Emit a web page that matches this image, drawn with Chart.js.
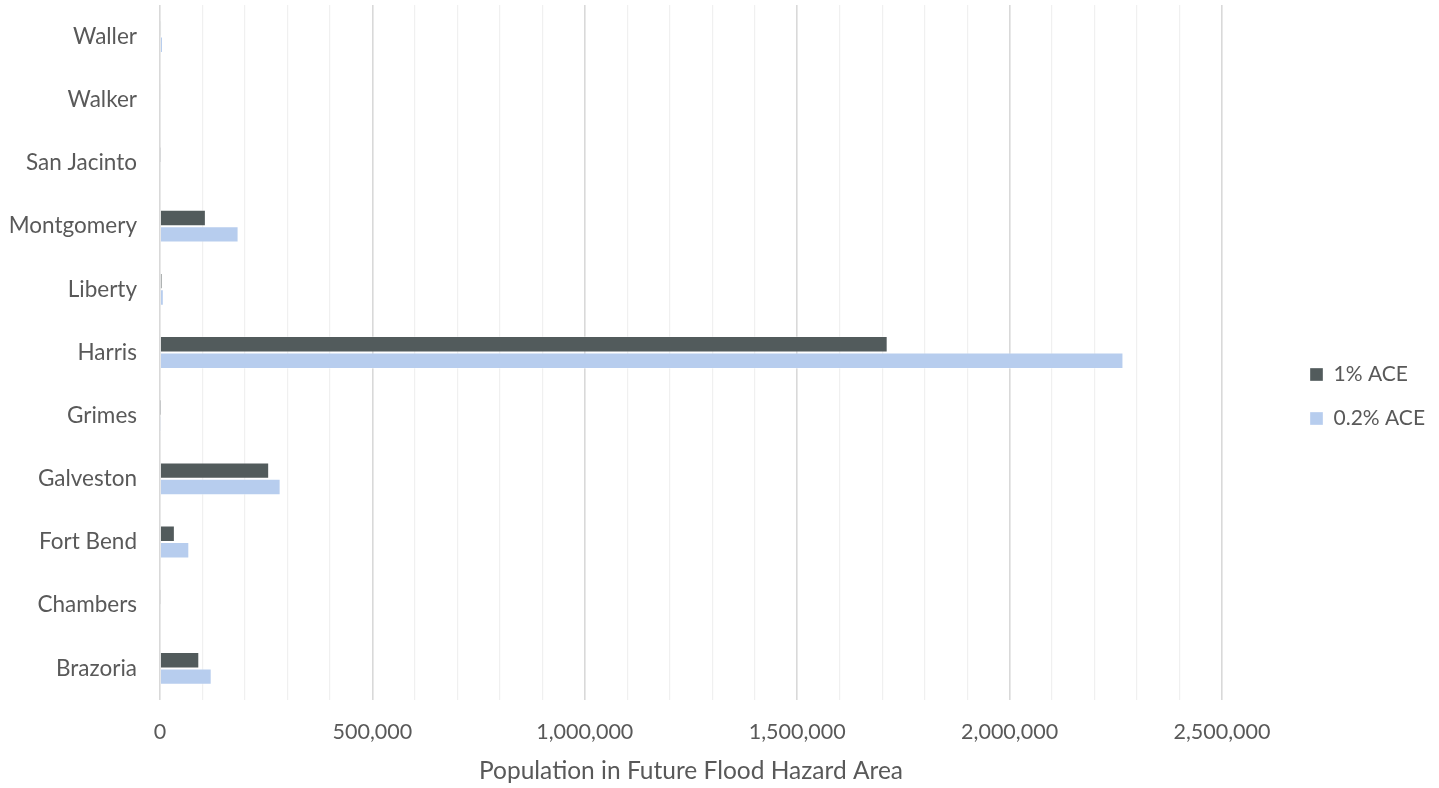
<!DOCTYPE html>
<html>
<head>
<meta charset="utf-8">
<title>Population in Future Flood Hazard Area</title>
<script src="https://cdn.jsdelivr.net/npm/chart.js@4.4.0/dist/chart.umd.min.js"></script>
<style>
  html, body { margin: 0; padding: 0; background: #fff; }
  #wrap { width: 1439px; height: 788px; position: relative; }
</style>
</head>
<body>
<div id="wrap"><canvas id="floodChart"></canvas></div>
<script>
// ====== Data (top to bottom as shown) ======
const counties = ["Waller","Walker","San Jacinto","Montgomery","Liberty","Harris","Grimes","Galveston","Fort Bend","Chambers","Brazoria"];
const ace1 =   [3000, 1500, 800, 108000, 5000, 1713000, 300, 257000, 35000, 1000, 92500];
const ace02 =  [7000, 2500, 1500, 185000, 9000, 2268000, 600, 284000, 69000, 2000, 121700];
const seriesNames = ["1% ACE", "0.2% ACE"];
const xTicks = [0, 500000, 1000000, 1500000, 2000000, 2500000];

// Helpers
const TXT = "#595959";
const FONT = "Lato, 'Open Sans', sans-serif";
function isMajor(v){ return v % 500000 === 0; }

// keep legend clear of the plot like the original layout
const legendSpacer = {
  id: "legendSpacer",
  afterInit(chart){
    const lg = chart.legend;
    const fit = Object.getPrototypeOf(lg).fit;
    lg.fit = function(){ fit.call(this); this.width = chart.width - 1222; };
  },
  afterLayout(chart){
    const lg = chart.legend;
    const pad = lg.options.labels.padding;
    const shift = (1310 - pad) - lg.left;
    lg.left += shift; lg.right += shift;
  }
};

new Chart(document.getElementById("floodChart"), {
  type: "bar",
  data: {
    labels: counties,
    datasets: [
      { label: seriesNames[0], data: ace1, backgroundColor: "#525b5c", borderColor: "rgba(255,255,255,0.35)", borderWidth: 1 },
      { label: seriesNames[1], data: ace02, backgroundColor: "#b7cdee", borderColor: "rgba(255,255,255,0.35)", borderWidth: 1 }
    ]
  },
  options: {
    indexAxis: "y",
    responsive: true,
    maintainAspectRatio: false,
    animation: false,
    layout: { padding: { top: 5, right: 0, bottom: 0, left: 0 } },
    categoryPercentage: 0.52,
    barPercentage: 1.0,
    plugins: {
      tooltip: { enabled: false },
      legend: {
        position: "right",
        labels: {
          color: TXT,
          font: { family: FONT, size: 21 },
          boxWidth: 13, boxHeight: 13,
          padding: 23
        }
      }
    },
    scales: {
      x: {
        min: 0, max: 2500000,
        border: { display: false },
        grid: {
          drawTicks: false,
          color: c => isMajor(c.tick.value) ? "#d9d9d9" : "#f0f0f0",
          lineWidth: c => isMajor(c.tick.value) ? 1.6 : 1.2
        },
        ticks: {
          stepSize: 100000,
          autoSkip: false,
          maxRotation: 0,
          padding: 19,
          color: TXT,
          font: { family: FONT, size: 21.5 },
          callback: v => xTicks.includes(v) ? v.toLocaleString("en-US") : ""
        },
        title: {
          display: true,
          text: "Population in Future Flood Hazard Area",
          color: TXT,
          font: { family: FONT, size: 24.5 },
          padding: { top: 0, bottom: 2 }
        },
        afterFit(scale){ scale.height = 88; }
      },
      y: {
        border: { display: false },
        grid: { display: false, drawTicks: false },
        ticks: {
          padding: 23,
          color: TXT,
          font: { family: FONT, size: 22.5 }
        },
        afterFit(scale){
          scale.width = 160;
          scale.paddingTop = 0;
          scale.paddingBottom = 0;
        }
      }
    }
  },
  plugins: [legendSpacer]
});
</script>
</body>
</html>
